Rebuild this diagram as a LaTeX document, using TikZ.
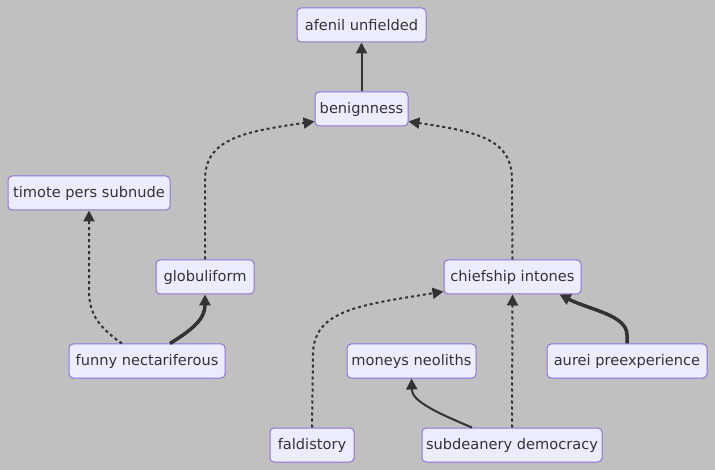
\documentclass[tikz,border=0pt]{standalone}
\usepackage{fontspec}
\setmainfont{DejaVu Sans}
\usetikzlibrary{arrows.meta}
\definecolor{bgc}{RGB}{192,192,192}
\definecolor{nodefill}{RGB}{236,236,255}
\definecolor{nodeline}{RGB}{147,112,219}
\definecolor{edgec}{RGB}{51,51,51}
\tikzset{
  box/.style={draw=nodeline, fill=nodefill, line width=1pt, rounded corners=4pt,
    minimum height=34pt, inner sep=0pt, text=edgec,
    font=\fontsize{14.6}{17}\selectfont},
  tip/.style={-{Triangle[length=11pt,width=11pt]}},
  solidedge/.style={tip, draw=edgec, line width=2pt},
  thickedge/.style={tip, draw=edgec, line width=3.5pt},
  dottededge/.style={tip, draw=edgec, line width=2pt, dash pattern=on 3pt off 3pt},
}
\begin{document}
\begin{tikzpicture}[x=1pt,y=-1pt]
\fill[bgc] (0,0) rectangle (715,470);
\useasboundingbox (0,0) rectangle (715,470);

\node[box, minimum width=129pt] (afenil) at (361.5,25) {afenil unfielded};
\node[box, minimum width=93pt] (benign) at (361.5,109) {benignness};
\node[box, minimum width=162pt] (timote) at (89,193) {timote pers subnude};
\node[box, minimum width=98pt] (glob) at (205,277) {globuliform};
\node[box, minimum width=137pt] (chief) at (512.5,277) {chiefship intones};
\node[box, minimum width=156pt] (funny) at (147,361) {funny nectariferous};
\node[box, minimum width=129pt] (money) at (411.5,361) {moneys neoliths};
\node[box, minimum width=160pt] (aurei) at (627,361) {aurei preexperience};
\node[box, minimum width=84pt] (fald) at (312,445) {faldistory};
\node[box, minimum width=180pt] (subd) at (512,445) {subdeanery democracy};

\coordinate (g1) at (205,180);
\coordinate (c1) at (512,180);
\coordinate (f1) at (313,355);

% edges
\draw[solidedge] (benign.north) -- (afenil.south);
\draw[dottededge] (glob.north) -- (g1) .. controls (205,140) and (240,132) .. ([yshift=5pt]benign.south west);
\draw[dottededge] (chief.north) -- (c1) .. controls (512,140) and (480,132) .. ([yshift=5pt]benign.south east);
\draw[dottededge] ([xshift=-25pt]funny.north) .. controls (95,325) and (89,310) .. (89,290) -- (timote.south);
\draw[thickedge] ([xshift=23pt]funny.north) .. controls (195,328) and (205,318) .. (glob.south);
\draw[dottededge] (fald.north) -- (f1) .. controls (313,310) and (360,305) .. ([yshift=3pt]chief.south west);
\draw[solidedge] ([xshift=-40pt]subd.north) .. controls (430,410) and (412,400) .. (money.south);
\draw[dottededge] (subd.north) -- (chief.south);
\draw[thickedge] (aurei.north) -- (627,335) .. controls (627,315) and (590,310) .. ([xshift=47pt]chief.south);
\end{tikzpicture}
\end{document}
